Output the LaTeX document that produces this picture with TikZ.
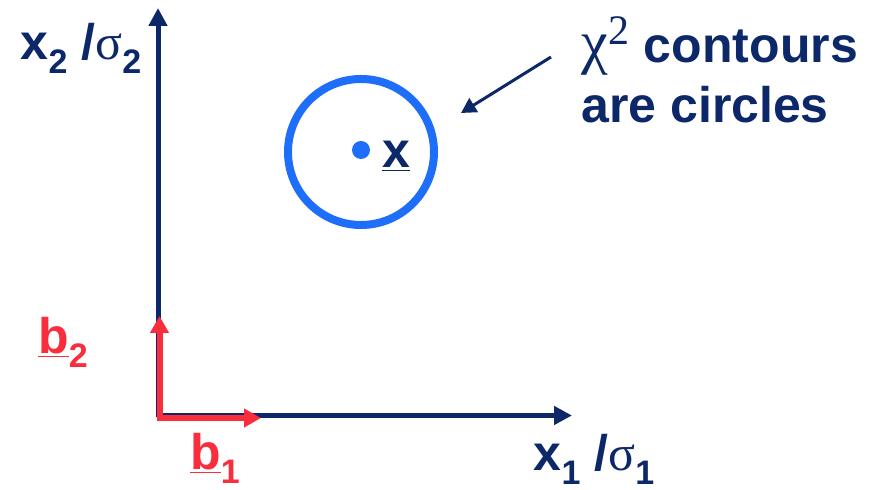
\documentclass[tikz,border=0pt]{standalone}
\usepackage{fontspec}
\setmainfont{Liberation Sans}
\newfontfamily\greekfont{Liberation Serif}
\usetikzlibrary{arrows.meta}
\definecolor{navy}{RGB}{12,40,105}
\definecolor{ringblue}{RGB}{30,110,250}
\definecolor{basisred}{RGB}{250,45,60}
\newcommand{\lowsub}[1]{\raisebox{-0.28em}{\fontsize{17}{20}\selectfont #1}}

\begin{document}
\begin{tikzpicture}[x=0.5pt, y=-0.5pt,
  axis/.style    = {navy, line width=2.5pt, -{Triangle[length=9pt,width=9pt]}},
  basis/.style   = {basisred, line width=3pt, -{Triangle[length=8.5pt,width=9pt]}},
  note/.style    = {navy, line width=1.5pt, -{Triangle[length=7.5pt,width=8pt]}},
  contour/.style = {ringblue, line width=4pt},
  dot/.style     = {circle, fill=ringblue, minimum size=9pt, inner sep=0pt},
  lbl/.style     = {font=\fontsize{25}{30}\selectfont\bfseries, text=navy,
                    inner sep=0pt, align=left},
  blbl/.style    = {lbl, text=basisred},
]
  \useasboundingbox (0,0) rectangle (874,490);

  % axes
  \coordinate (O)    at (158,417.5);
  \coordinate (Oh)   at (156.8,415.5);
  \coordinate (xend) at (572,415.5);
  \coordinate (yend) at (158,8);
  \draw[axis] (O) -- (yend);
  \draw[axis] (Oh) -- (xend);

  \node[lbl] (x2lbl) at (81,48)   {x\lowsub{2} /{\greekfont\mdseries σ}\lowsub{2}};
  \node[lbl] (x1lbl) at (594,459) {x\lowsub{1} /{\greekfont\mdseries σ}\lowsub{1}};

  % basis vectors
  \coordinate (rO)  at (159.5,419);
  \coordinate (rOh) at (157,418);
  \coordinate (b1tip) at (261,418);
  \coordinate (b2tip) at (159.5,316);
  \draw[basis] (rO) -- (b2tip);
  \draw[basis] (rOh) -- (b1tip);

  \node[blbl] (b2lbl) at (63,342)  {\underline{b}\lowsub{2}};
  \node[blbl] (b1lbl) at (215,458) {\underline{b}\lowsub{1}};

  % the point and its contour
  \node[dot] (pt) at (361,150) {};
  \draw[contour] (361,152) circle[radius=73];
  \node[lbl, anchor=west] (xlbl) at (382,156) {\underline{x}};

  % note
  \node[lbl, anchor=west] (note) at (581,70)
    {{\greekfont\mdseries\fontsize{30}{30}\selectfont χ\textsuperscript{2}} contours\\are circles};
  \coordinate (tail) at (551,57);
  \coordinate (head) at (461,113);
  \draw[note] (tail) -- (head);
\end{tikzpicture}
\end{document}
